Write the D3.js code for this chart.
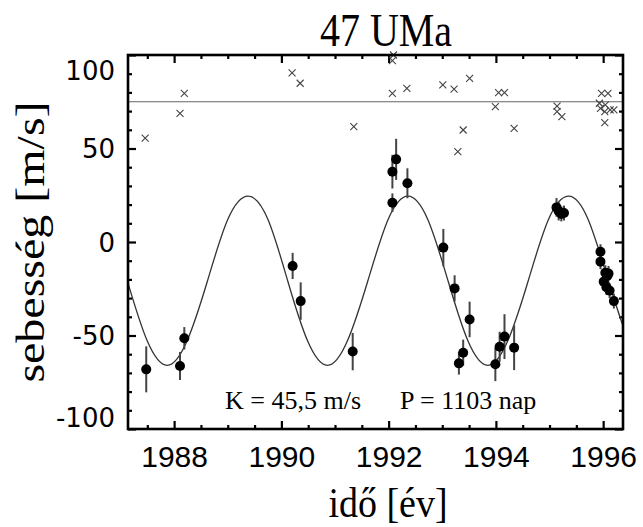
<!DOCTYPE html>
<html><head><meta charset="utf-8">
<script src="https://cdn.jsdelivr.net/npm/d3@7"></script>
<style>
html,body{margin:0;padding:0;background:#fff;}
svg{display:block;}
</style></head>
<body>
<svg id="chart" width="643" height="527"></svg>
<script>
// ---- data ----
const titleText = "47 UMa";
const xLabelText = "idő [év]";
const yLabelText = "sebesség [m/s]";
const annotK = "K = 45,5 m/s";
const annotP = "P = 1103 nap";
const xTickYears = [1988, 1990, 1992, 1994, 1996];
const yTickVals = [-100, -50, 0, 50, 100];
const refLevel = 75;

// crosses (upper set): [year, value]
const crossYears = [1987.46,1988.19,1988.11,1990.20,1990.35,1991.35,1992.07,1992.09,1992.07,1992.34,1993.01,1993.22,1993.51,1993.39,1993.29,1993.99,1994.05,1994.16,1994.34,1995.14,1995.14,1995.23,1995.97,1996.09,1995.93,1996.04,1996.13,1996.20,1996.03,1996.03,1995.95];
const crossVals  = [55.6,79.5,68.8,90.5,84.9,61.7,97,100,79.5,82.2,84,81.7,87.5,59.9,48.3,72.4,79.9,79.9,60.8,72.7,69.7,67,79.5,79.5,74.2,73.3,70.6,70.6,69.7,63.8,71.5];

// radial velocity measurements with error bars
const obsYears = [1987.48,1988.11,1988.19,1990.21,1990.36,1991.33,1992.14,1992.07,1992.07,1992.35,1993.02,1993.23,1993.51,1993.39,1993.31,1993.99,1994.07,1994.16,1994.34,1995.13,1995.17,1995.22,1995.27,1995.95,1995.95,1996.04,1996.10,1996.01,1996.06,1996.12,1996.20,1996.08];
const obsVals  = [-68.1,-66.3,-51.5,-12.8,-31.6,-58.6,44.2,37.6,21,31.4,-3,-24.8,-41.4,-59.2,-64.9,-65.4,-56,-50.6,-56.5,18.5,16.5,15,15.5,-5.2,-10.5,-16.4,-16.8,-21.2,-24.2,-26,-31.6,-18];
const obsErrs  = [12.3,7.5,6,7,10,10,11,9,5,8,10,7,9.5,7,6,9,8,12,12,5,5,4,4,4,4,4,4,4,4,4,4,4];

// fitted orbit curve
const fitYears = [1987.14,1987.50,1987.87,1988.24,1988.62,1989.00,1989.38,1989.75,1990.12,1990.49,1990.86,1991.23,1991.61,1991.99,1992.36,1992.73,1993.11,1993.48,1993.85,1994.22,1994.60,1994.98,1995.35,1995.72,1996.10,1996.37];
const fitVals  = [-22,-53,-66,-53,-21,12,24.5,12,-21,-53,-66,-53,-21,12,24.5,12,-21,-53,-66,-53,-21,12,24.5,12,-21,-45];

// ---- drawing ----
const svg = d3.select("#chart");
const L = 128, R = 623, T = 55, B = 429;
const x = d3.scaleLinear().domain([1987.14, 1996.37]).range([L, R]);
const y = d3.scaleLinear().domain([-100, 100]).range([B, T]);

const serif = "'Liberation Serif','Times New Roman',serif";
const sans = "'DejaVu Sans',sans-serif";

const halfYears = d3.range(1987.5, 1996.37, 0.5).filter(v => !xTickYears.includes(v));
const tenVals = d3.range(-90, 100, 10).filter(v => !yTickVals.includes(v));

function styleAxis(g){
  g.select(".domain").remove();
  g.selectAll(".tick line").attr("stroke","#000").attr("stroke-width",2.2);
}
// bottom
svg.append("g").attr("transform",`translate(0,${B})`)
  .call(d3.axisBottom(x).tickValues(xTickYears).tickSize(-8).tickPadding(17).tickFormat(d3.format("d")))
  .call(styleAxis)
  .call(g => g.selectAll("text").attr("font-family","'Liberation Sans',sans-serif").attr("font-size",30).attr("fill","#000"));
svg.append("g").attr("transform",`translate(0,${B})`)
  .call(d3.axisBottom(x).tickValues(halfYears).tickSize(-4).tickFormat(""))
  .call(styleAxis);
// top
svg.append("g").attr("transform",`translate(0,${T})`)
  .call(d3.axisTop(x).tickValues(xTickYears).tickSize(-8).tickFormat(""))
  .call(styleAxis);
svg.append("g").attr("transform",`translate(0,${T})`)
  .call(d3.axisTop(x).tickValues(halfYears).tickSize(-4).tickFormat(""))
  .call(styleAxis);
// left
svg.append("g").attr("transform",`translate(${L},0)`)
  .call(d3.axisLeft(y).tickValues(yTickVals).tickSize(-8).tickPadding(13)
     .tickFormat(d => d < 0 ? "-" + Math.abs(d) : String(d)))
  .call(styleAxis)
  .call(g => g.selectAll("text").attr("font-family",sans).attr("font-size",26).attr("fill","#000")
     .attr("dy", d => d === 100 ? "0.95em" : d === -100 ? "-0.1em" : "0.36em"));
svg.append("g").attr("transform",`translate(${L},0)`)
  .call(d3.axisLeft(y).tickValues(tenVals).tickSize(-4).tickFormat(""))
  .call(styleAxis);
// right
svg.append("g").attr("transform",`translate(${R},0)`)
  .call(d3.axisRight(y).tickValues(yTickVals).tickSize(-8).tickFormat(""))
  .call(styleAxis);
svg.append("g").attr("transform",`translate(${R},0)`)
  .call(d3.axisRight(y).tickValues(tenVals).tickSize(-4).tickFormat(""))
  .call(styleAxis);

// reference line
svg.append("line").attr("x1",L).attr("x2",R).attr("y1",y(refLevel)).attr("y2",y(refLevel))
  .attr("stroke","#666").attr("stroke-width",1.2);

// fitted curve
const fitData = fitYears.map((t,i)=>[t, fitVals[i]]);
svg.append("path").datum(fitData)
  .attr("d", d3.line().x(d=>x(d[0])).y(d=>y(d[1])).curve(d3.curveNatural))
  .attr("fill","none").attr("stroke","#333").attr("stroke-width",1.3);

// crosses
const cs = 3.5;
const crossG = svg.append("g").attr("stroke","#444").attr("stroke-width",1.1);
crossYears.forEach((t,i)=>{
  const cx = x(t), cy = y(crossVals[i]);
  crossG.append("path").attr("d",`M${cx-cs},${cy-cs}L${cx+cs},${cy+cs}M${cx-cs},${cy+cs}L${cx+cs},${cy-cs}`);
});

// error bars + points
const obs = obsYears.map((t,i)=>({t, v: obsVals[i], e: obsErrs[i]}));
svg.append("g").selectAll("line").data(obs).join("line")
  .attr("x1",d=>x(d.t)).attr("x2",d=>x(d.t))
  .attr("y1",d=>y(d.v+d.e)).attr("y2",d=>y(d.v-d.e))
  .attr("stroke","#444").attr("stroke-width",2);
svg.append("g").selectAll("circle").data(obs).join("circle")
  .attr("cx",d=>x(d.t)).attr("cy",d=>y(d.v)).attr("r",5).attr("fill","#000");

// frame
svg.append("rect").attr("x",L).attr("y",T).attr("width",R-L).attr("height",B-T)
  .attr("fill","none").attr("stroke","#000").attr("stroke-width",2.6);

// annotations
svg.append("text").attr("x",225).attr("y",409).attr("font-family",serif).attr("font-size",26).text(annotK);
svg.append("text").attr("x",400).attr("y",409).attr("font-family",serif).attr("font-size",26).text(annotP);

// title
svg.append("text").attr("transform","translate(386,46) scale(1,1.15)").attr("text-anchor","middle")
  .attr("font-family",serif).attr("font-size",40).text(titleText);
// x label
svg.append("text").attr("transform","translate(388,517) scale(1,1.12)").attr("text-anchor","middle")
  .attr("font-family",serif).attr("font-size",38).text(xLabelText);
// y label
svg.append("text").attr("transform","translate(44,242) scale(1,1.2) rotate(-90)").attr("text-anchor","middle")
  .attr("font-family",serif).attr("font-size",40).text(yLabelText);
</script>
</body></html>
